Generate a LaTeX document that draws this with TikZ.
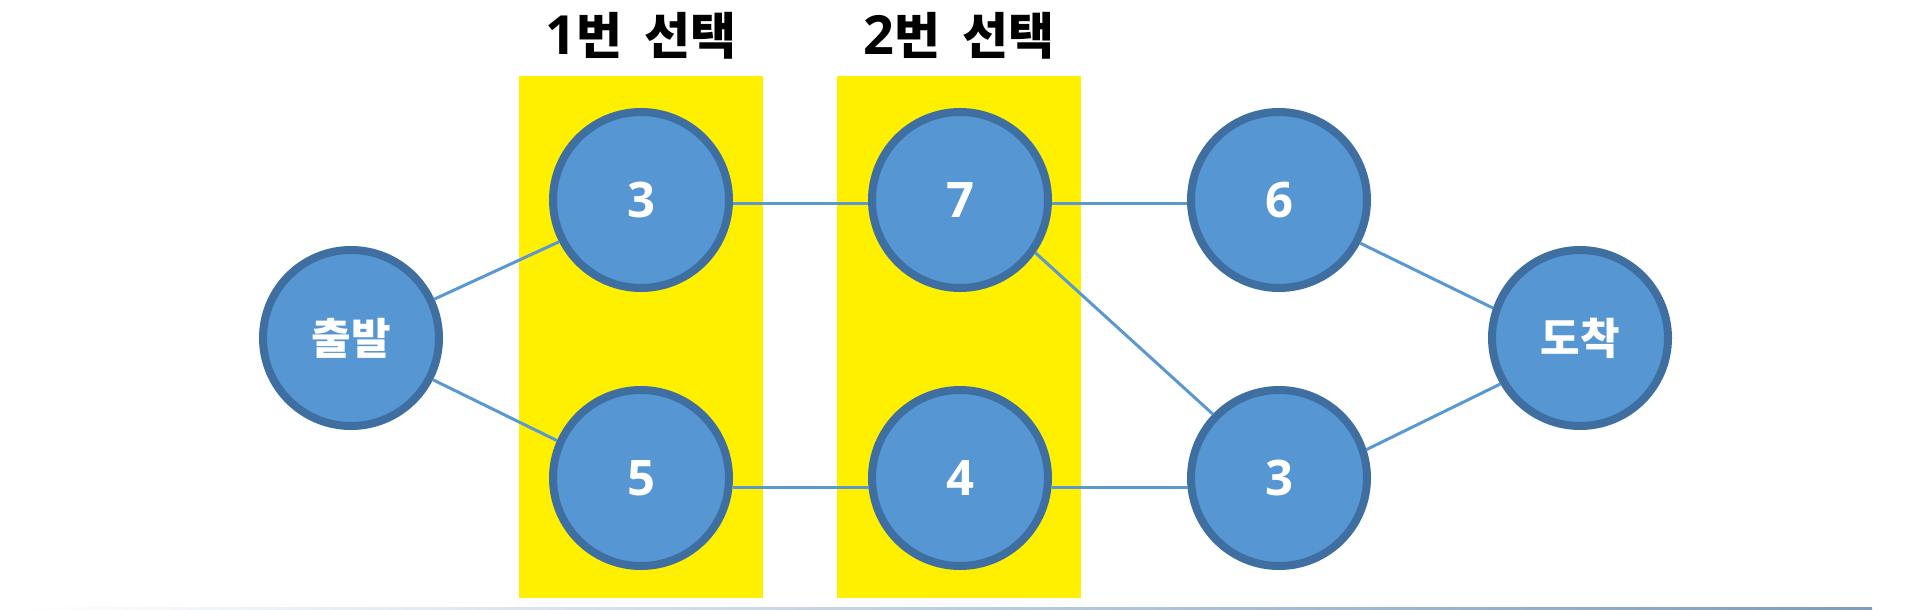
\documentclass[tikz,border=0pt]{standalone}
\usepackage{fontspec}
\newfontfamily\kr{Noto Sans CJK KR}
\newfontfamily\lat{Open Sans}
\definecolor{nodefill}{HTML}{5596D3}
\definecolor{nodeline}{HTML}{3F6FA0}
\definecolor{edgecol}{HTML}{5B98D0}
\definecolor{hilite}{HTML}{FFF000}
\definecolor{basecol}{HTML}{7F9DB8}
\tikzset{
  stage/.style={circle, fill=nodefill, draw=nodeline, line width=8pt,
    minimum size=176pt, inner sep=0pt, text=white, font=\lat\bfseries\fontsize{49}{49}\selectfont},
  endpoint/.style={stage, font=\kr\bfseries\fontsize{43}{43}\selectfont},
  band/.style={fill=hilite, draw=none},
  title/.style={font=\kr\bfseries\fontsize{50}{50}\selectfont, text=black, inner sep=0pt},
  edge/.style={draw=edgecol, line width=3pt}
}
\newcommand{\tdigit}[1]{{\lat\bfseries\fontsize{54}{54}\selectfont #1}}
\newcommand{\tgap}{\hspace{0.45em}}
\begin{document}
\begin{tikzpicture}[x=1pt,y=-1pt]
\useasboundingbox (0,0) rectangle (1917,610);
\fill[white] (0,0) rectangle (1917,610);
% faint base line
\shade[left color=white, right color=basecol, draw=none] (20,607) rectangle (1872,610);
% highlight bands
\path[band] (519,76) rectangle (763,598);
\path[band] (837,76) rectangle (1081,598);
% titles
\node[title] (t1) at (641,36) {\tdigit{1}번\tgap 선택};
\node[title] (t2) at (959,36) {\tdigit{2}번\tgap 선택};
% nodes
\node[endpoint] (start) at (351,338) {출발};
\node[stage] (a3) at (641,200) {3};
\node[stage] (a5) at (641,478) {5};
\node[stage] (b7) at (960,200) {7};
\node[stage] (b4) at (960,478) {4};
\node[stage] (c6) at (1279,200) {6};
\node[stage] (c3) at (1279,478) {3};
\node[endpoint] (goal) at (1580,338) {도착};
% edges
\draw[edge] (start.25) -- (a3.207);
\draw[edge] (start.-27) -- (a5.156);
\draw[edge] (a3.-2) -- (b7.182);
\draw[edge] (a5.-6) -- (b4.186);
\draw[edge] (b7.-2) -- (c6.182);
\draw[edge] (b7.-35) -- (c3.136);
\draw[edge] (b4.-6) -- (c3.186);
\draw[edge] (c6.-28) -- (goal.161);
\draw[edge] (c3.18) -- (goal.210);
\end{tikzpicture}
\end{document}
